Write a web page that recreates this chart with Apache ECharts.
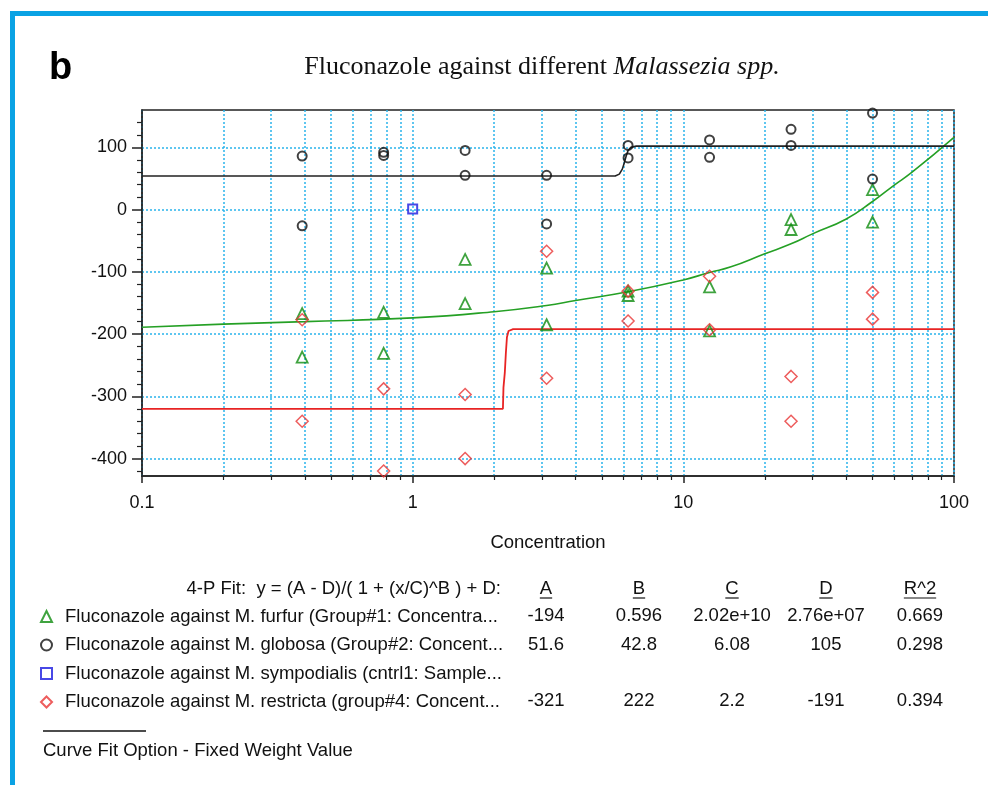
<!DOCTYPE html>
<html>
<head>
<meta charset="utf-8">
<script src="https://cdn.jsdelivr.net/npm/echarts@6/dist/echarts.min.js"></script>
<style>
  html, body { margin: 0; padding: 0; background: #fff; }
  #main { width: 988px; height: 785px; }
</style>
</head>
<body>
<div id="main"></div>
<script>
var myChart = echarts.init(document.getElementById('main'));
var sans = '"Liberation Sans", Arial, sans-serif';
var serif = '"Liberation Serif", "Times New Roman", serif';

// 数据
var concentrations = [0.390625, 0.78125, 1.5625, 3.125, 6.25, 12.5, 25, 50];
var furfurRep1 = [-167, -165, -80, -94, -131, -124, -16, 32];
var furfurRep2 = [-237, -231, -151, -185, -138, -195, -32, -20];
var globosaRep1 = [86, 92, 95, 55, 103, 112, 129, 155];
var globosaRep2 = [-26, 87, 55, -23, 83, 84, 103, 49];
var sympodialisX = [1];
var sympodialisY = [1];
var restrictaRep1 = [-177, -288, -297, -67, -131, -107, -268, -133];
var restrictaRep2 = [-340, -420, -400, -271, -179, -193, -340, -176];

// 拟合曲线
var furfurFitX = [0.1, 0.2, 0.4, 1, 2, 3.125, 4, 6.25, 10, 12.5, 15, 20, 25, 30, 40, 50, 60, 70, 100];
var furfurFitY = [-189, -184, -180, -174, -164, -154, -146, -132, -113, -101, -92, -71, -55, -39, -15, 13, 39, 60, 116];
var globosaFitX = [0.1, 5.6, 5.8, 5.95, 6.05, 6.15, 6.25, 6.4, 6.7, 100];
var globosaFitY = [54, 54, 57, 65, 75, 86, 95, 100, 102, 102];
var restrictaFitX = [0.1, 2.155, 2.165, 2.19, 2.21, 2.23, 2.26, 2.35, 100];
var restrictaFitY = [-320, -320, -286, -262, -230, -205, -195, -192, -192];

// 刻度
var xMajorTicks = [0.1, 1, 10, 100];
var xMinorTicks = [0.2, 0.3, 0.4, 0.5, 0.6, 0.7, 0.8, 0.9, 2, 3, 4, 5, 6, 7, 8, 9, 20, 30, 40, 50, 60, 70, 80, 90];
var yMajorTicks = [-400, -300, -200, -100, 0, 100];
var yMinorTicks = [-420, -380, -360, -340, -320, -280, -260, -240, -220, -180, -160, -140, -120, -80, -60, -40, -20, 20, 40, 60, 80, 120, 140];

// 图例与拟合参数表
var seriesNames = [
    'Fluconazole against M. furfur (Group#1: Concentra...',
    'Fluconazole against M. globosa (Group#2: Concent...',
    'Fluconazole against M. sympodialis (cntrl1: Sample...',
    'Fluconazole against M. restricta (group#4: Concent...'
];
var fitHeaders = ['A', 'B', 'C', 'D', 'R^2'];
var fitA = ['-194', '51.6', '', '-321'];
var fitB = ['0.596', '42.8', '', '222'];
var fitC = ['2.02e+10', '6.08', '', '2.2'];
var fitD = ['2.76e+07', '105', '', '-191'];
var fitR2 = ['0.669', '0.298', '', '0.394'];

function pairs(xs, ys) {
    return xs.map(function (x, i) { return [x, ys[i]]; });
}
function reps(a, b) {
    return pairs(concentrations, a).concat(pairs(concentrations, b));
}

// 表格布局
var colX = [546, 639, 732, 826, 920];
var headerY = 589;
var rowY = [616, 644.5, 672.5, 701];
var tableFont = '18.5px ' + sans;

var measureCtx = document.createElement('canvas').getContext('2d');
measureCtx.font = tableFont;

var graphics = [
    { type: 'line', shape: { x1: 10, y1: 13.5, x2: 988, y2: 13.5 }, style: { stroke: '#0aa2e4', lineWidth: 5 } },
    { type: 'line', shape: { x1: 12.5, y1: 11, x2: 12.5, y2: 785 }, style: { stroke: '#0aa2e4', lineWidth: 5 } },
    { type: 'text', x: 49, y: 69, style: { text: 'b', font: 'bold 38px ' + sans, fill: '#000', align: 'left', verticalAlign: 'middle' } },
    {
        type: 'text', x: 542, y: 67,
        style: {
            text: '{n|Fluconazole against different }{i|Malassezia spp.}',
            align: 'center', verticalAlign: 'middle',
            rich: {
                n: { fontFamily: serif, fontSize: 26, fill: '#111' },
                i: { fontFamily: serif, fontSize: 26, fontStyle: 'italic', fill: '#111' }
            }
        }
    },
    { type: 'text', x: 501, y: headerY, style: { text: '4-P Fit:  y = (A - D)/( 1 + (x/C)^B ) + D:', font: tableFont, fill: '#111', align: 'right', verticalAlign: 'middle' } },
    { type: 'line', shape: { x1: 43, y1: 731, x2: 146, y2: 731 }, style: { stroke: '#111', lineWidth: 1.5 } },
    { type: 'text', x: 43, y: 751, style: { text: 'Curve Fit Option - Fixed Weight Value', font: tableFont, fill: '#111', align: 'left', verticalAlign: 'middle' } }
];

var columns = [fitA, fitB, fitC, fitD, fitR2];
fitHeaders.forEach(function (h, c) {
    var w = measureCtx.measureText(h).width;
    graphics.push({ type: 'text', x: colX[c], y: headerY, style: { text: h, font: tableFont, fill: '#111', align: 'center', verticalAlign: 'middle' } });
    graphics.push({ type: 'line', shape: { x1: colX[c] - w / 2, y1: headerY + 9, x2: colX[c] + w / 2, y2: headerY + 9 }, style: { stroke: '#111', lineWidth: 1.2 } });
    columns[c].forEach(function (v, r) {
        if (!v) return;
        graphics.push({ type: 'text', x: colX[c], y: rowY[r], style: { text: v, font: tableFont, fill: '#111', align: 'center', verticalAlign: 'middle' } });
    });
});

var gridLine = { color: '#2ab4ec', type: [2, 2], width: 1.5 };
var axisColor = '#222';

var option = {
    backgroundColor: '#fff',
    animation: false,
    grid: { left: 142, top: 110, width: 812, height: 366, show: true, borderColor: axisColor, borderWidth: 1.5, containLabel: false },
    legend: {
        orient: 'vertical',
        left: 40, top: 607,
        padding: 0,
        itemWidth: 11, itemHeight: 11, itemGap: 9.5,
        selectedMode: false,
        data: seriesNames,
        textStyle: { fontFamily: sans, fontSize: 18.5, color: '#111', padding: [0, 0, 0, 8] }
    },
    xAxis: [{
        type: 'log', logBase: 10, min: 0.1, max: 100, position: 'bottom',
        name: 'Concentration', nameLocation: 'middle', nameGap: 57,
        nameTextStyle: { fontFamily: sans, fontSize: 18.5, color: '#111' },
        axisLine: { show: true, onZero: false, lineStyle: { color: axisColor, width: 1.5 } },
        axisTick: { show: true, length: 7, customValues: xMajorTicks, lineStyle: { color: axisColor, width: 1.5 } },
        axisLabel: { customValues: xMajorTicks, fontFamily: sans, fontSize: 18, color: '#111', margin: 18, formatter: function (v) { return String(v); } },
        splitLine: { show: true, lineStyle: gridLine }
    }, {
        type: 'log', logBase: 10, min: 0.1, max: 100, position: 'bottom',
        axisLine: { show: false, onZero: false },
        axisTick: { show: true, length: 4, customValues: xMinorTicks, lineStyle: { color: axisColor, width: 1.2 } },
        axisLabel: { show: false },
        splitLine: { show: true, lineStyle: gridLine }
    }],
    yAxis: [{
        type: 'value', min: -428, max: 160, position: 'left',
        axisLine: { show: true, onZero: false, lineStyle: { color: axisColor, width: 1.5 } },
        axisTick: { show: true, length: 10, customValues: yMajorTicks, lineStyle: { color: axisColor, width: 1.5 } },
        axisLabel: { customValues: yMajorTicks, fontFamily: sans, fontSize: 18, color: '#111', margin: 15 },
        splitLine: { show: true, lineStyle: gridLine }
    }, {
        type: 'value', min: -428, max: 160, position: 'left',
        axisLine: { show: false, onZero: false },
        axisTick: { show: true, length: 5, customValues: yMinorTicks, lineStyle: { color: axisColor, width: 1.2 } },
        axisLabel: { show: false },
        splitLine: { show: false }
    }],
    series: [
        {
            name: seriesNames[0], type: 'scatter', symbol: 'triangle', symbolSize: 11,
            itemStyle: { color: 'rgba(0,0,0,0)', borderColor: '#0f8c0f', borderWidth: 1.8 },
            data: reps(furfurRep1, furfurRep2), z: 4
        },
        {
            name: seriesNames[1], type: 'scatter', symbol: 'circle', symbolSize: 9,
            itemStyle: { color: 'rgba(0,0,0,0)', borderColor: '#111', borderWidth: 2 },
            data: reps(globosaRep1, globosaRep2), z: 4
        },
        {
            name: seriesNames[2], type: 'scatter', symbol: 'rect', symbolSize: 9,
            itemStyle: { color: 'rgba(0,0,0,0)', borderColor: '#1a1ae0', borderWidth: 2 },
            data: pairs(sympodialisX, sympodialisY), z: 4
        },
        {
            name: seriesNames[3], type: 'scatter', symbol: 'diamond', symbolSize: 12,
            itemStyle: { color: 'rgba(0,0,0,0)', borderColor: '#e83434', borderWidth: 1.5 },
            data: reps(restrictaRep1, restrictaRep2), z: 4
        },
        {
            name: 'furfur fit', type: 'line', smooth: true, symbol: 'none',
            lineStyle: { color: '#25a025', width: 1.6 },
            data: pairs(furfurFitX, furfurFitY), z: 3
        },
        {
            name: 'globosa fit', type: 'line', symbol: 'none',
            lineStyle: { color: '#222', width: 1.6 },
            data: pairs(globosaFitX, globosaFitY), z: 3
        },
        {
            name: 'restricta fit', type: 'line', symbol: 'none',
            lineStyle: { color: '#e82424', width: 1.8 },
            data: pairs(restrictaFitX, restrictaFitY), z: 3
        }
    ],
    graphic: { elements: graphics }
};
myChart.setOption(option);
</script>
</body>
</html>
